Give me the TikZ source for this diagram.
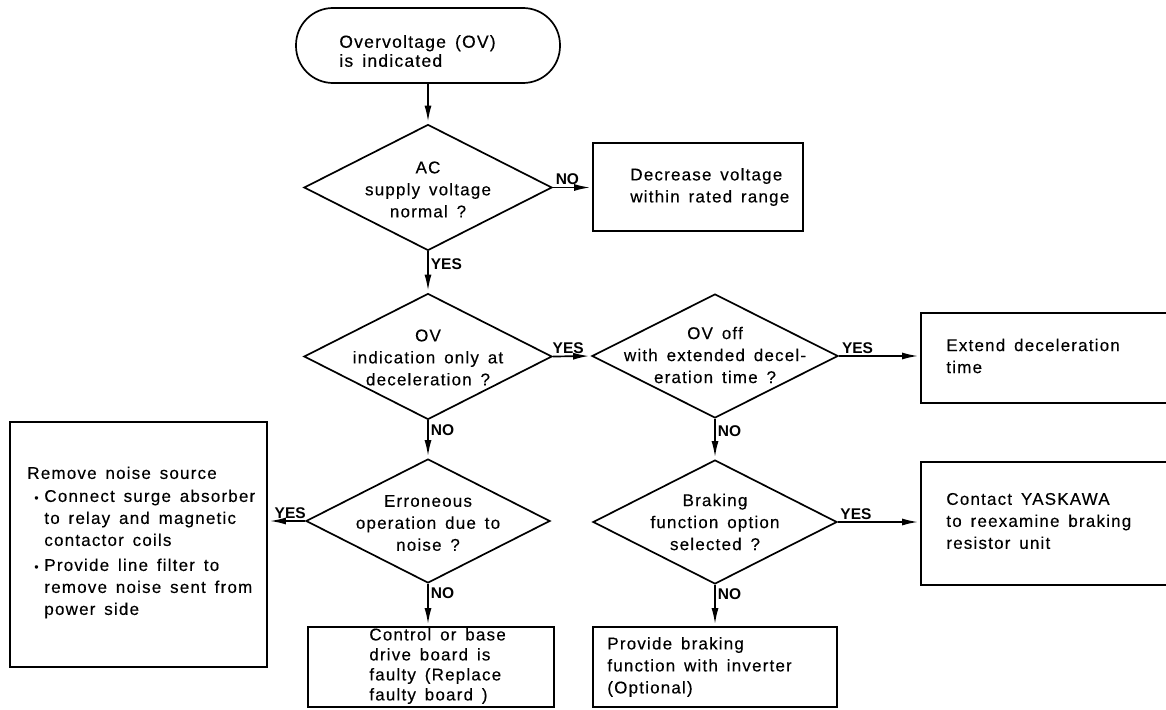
\documentclass[tikz,border=0pt]{standalone}
\usepackage{fontspec}
\setmainfont{Liberation Sans}[LetterSpace=7, WordSpace=1.5, FakeBold=0.3]
\newfontfamily\lblfont{Liberation Sans}
\usetikzlibrary{shapes.geometric, arrows.meta}
\begin{document}
\begin{tikzpicture}[x=1pt, y=-1pt,
  txt/.style={font=\fontsize{17}{22}\selectfont, align=left, inner sep=0pt, anchor=west},
  dtxt/.style={font=\fontsize{17}{22}\selectfont, align=center, inner sep=0pt},
  box/.style={draw, line width=1.7pt, rectangle, inner sep=0pt},
  dia/.style={draw, line width=1.7pt, diamond, inner sep=0pt},
  term/.style={draw, line width=1.7pt, rectangle, rounded corners=37pt, inner sep=0pt},
  lbl/.style={font={\lblfont\fontsize{15.5}{16}\selectfont\bfseries}, inner sep=2pt},
  flow/.style={line width=1.7pt, -{Latex[length=16pt,width=7pt]}, shorten >=2pt}
]
\useasboundingbox (0,0) rectangle (1166,709);
\clip (0,0) rectangle (1166,709);

% nodes
\node[term, minimum width=264pt, minimum height=75pt] (t) at (428,45.5) {};
\node[txt, font=\fontsize{17.5}{19}\selectfont] (tt) at ([xshift=44pt, yshift=-5.5pt]t.west) {Overvoltage (OV)\\is indicated};

\node[dia, minimum width=248pt, minimum height=126pt] (d1) at (428,187.5) {};
\node[dtxt] (d1t) at ([yshift=-2pt]d1.center) {AC\\supply voltage\\normal ?};

\node[box, minimum width=210pt, minimum height=88pt] (b1) at (698,187) {};
\node[txt] (b1t) at ([xshift=38pt]b1.west) {Decrease voltage\\within rated range};

\node[dia, minimum width=248pt, minimum height=126pt] (d2) at (428,356.5) {};
\node[dtxt] (d2t) at ([yshift=-1pt]d2.center) {OV\\indication only at\\deceleration ?};

\node[dia, minimum width=246pt, minimum height=124pt] (d3) at (715,356) {};
\node[dtxt] (d3t) at ([yshift=1pt]d3.center) {OV off\\with extended decel-\\eration time ?};

\node[box, minimum width=249pt, minimum height=90pt] (b2) at (1045.5,358) {};
\node[txt] (b2t) at ([xshift=26pt, yshift=2pt]b2.west) {Extend deceleration\\time};

\node[dia, minimum width=244pt, minimum height=124pt] (d4) at (428,521) {};
\node[dtxt] (d4t) at ([yshift=-2pt]d4.center) {Erroneous\\operation due to\\noise ?};

\node[box, minimum width=257pt, minimum height=245pt] (b3) at (138.5,544.5) {};
\node[txt] (b3t) at ([xshift=18pt, yshift=2pt]b3.west) {Remove noise source\\[1pt]
  \makebox[17pt][l]{\hspace{7pt}{\fontsize{12}{12}\selectfont\textbullet}}Connect surge absorber\\
  \hspace*{17pt}to relay and magnetic\\
  \hspace*{17pt}contactor coils\\[3pt]
  \makebox[17pt][l]{\hspace{7pt}{\fontsize{12}{12}\selectfont\textbullet}}Provide line filter to\\
  \hspace*{17pt}remove noise sent from\\
  \hspace*{17pt}power side};

\node[dia, minimum width=244pt, minimum height=124pt] (d5) at (715,522) {};
\node[dtxt] (d5t) at ([yshift=0pt]d5.center) {Braking\\function option\\selected ?};

\node[box, minimum width=249pt, minimum height=123pt] (b4) at (1045.5,523.5) {};
\node[txt] (b4t) at ([xshift=26pt, yshift=2.5pt]b4.west) {Contact YASKAWA\\to reexamine braking\\resistor unit};

\node[box, minimum width=246pt, minimum height=80pt] (b5) at (431,667) {};
\node[txt, font=\fontsize{17}{20}\selectfont] (b5t) at ([xshift=62pt, yshift=1pt]b5.west) {Control or base\\drive board is\\faulty (Replace\\faulty board )};

\node[box, minimum width=244pt, minimum height=80pt] (b6) at (715,667) {};
\node[txt] (b6t) at ([xshift=15pt, yshift=0pt]b6.west) {Provide braking\\function with inverter\\(Optional)};

% connectors
\draw[flow] (t.south) -- (d1.north);
\draw[flow] (d1.east) -- node[lbl, above, pos=0.37] {NO} (d1.east -| b1.west);
\draw[flow] (d1.south) -- node[lbl, right, pos=0.3] {YES} (d2.north);
\draw[flow] (d2.east) -- node[lbl, above, pos=0.4] {YES} (d3.west);
\draw[flow] (d3.east) -- node[lbl, above, pos=0.23] {YES} (d3.east -| b2.west);
\draw[flow] (d2.south) -- node[lbl, right, pos=0.25] {NO} (d4.north);
\draw[flow] (d4.west) -- node[lbl, above, pos=0.4] {YES} (d4.west -| b3.east);
\draw[flow] (d4.south) -- node[lbl, right, pos=0.23] {NO} (d4.south |- b5.north);
\draw[flow] (d3.south) -- node[lbl, right, pos=0.3] {NO} (d5.north);
\draw[flow] (d5.east) -- node[lbl, above, pos=0.22] {YES} (d5.east -| b4.west);
\draw[flow] (d5.south) -- node[lbl, right, pos=0.23] {NO} (d5.south |- b6.north);
\end{tikzpicture}
\end{document}
